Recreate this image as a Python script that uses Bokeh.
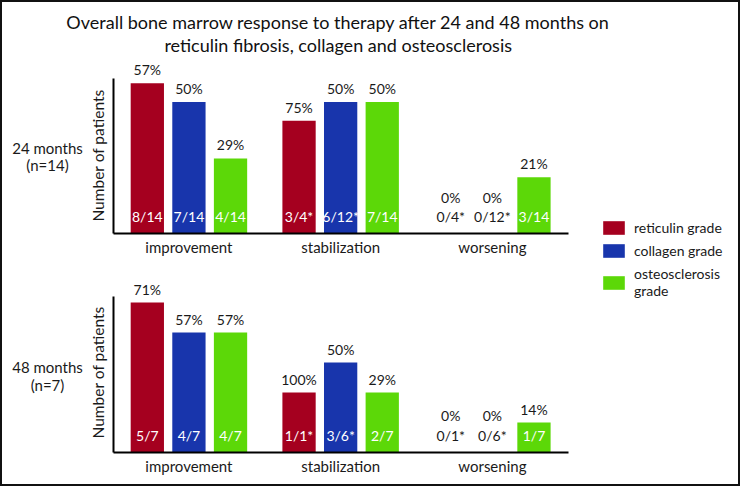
import numpy as np
from bokeh.plotting import figure
from bokeh.models import (Range1d, LinearAxis, FixedTicker, ColumnDataSource,
                          Label, Legend, LegendItem)
from bokeh.transform import dodge
from bokeh.embed import file_html
from bokeh.resources import INLINE

# ---------------- data ----------------
categories = ["improvement", "stabilization", "worsening"]
series_names = ["reticulin grade", "collagen grade", "osteosclerosis\ngrade"]
colors = ["#A5001F", "#1835AC", "#5CD808"]

title_lines = ["Overall bone marrow response to therapy after 24 and 48 months on",
               "reticulin fibrosis, collagen and osteosclerosis"]
panel_labels = [("24 months", "(n=14)"), ("48 months", "(n=7)")]
y_label = "Number of patients"

# number of patients per category (24 months, n=14)
reticulin_24 = [8, 6, 0]
collagen_24 = [7, 7, 0]
osteo_24 = [4, 7, 3]
reticulin_24_pct = ["57%", "75%", "0%"]
collagen_24_pct = ["50%", "50%", "0%"]
osteo_24_pct = ["29%", "50%", "21%"]
reticulin_24_frac = ["8/14", "3/4*", "0/4*"]
collagen_24_frac = ["7/14", "6/12*", "0/12*"]
osteo_24_frac = ["4/14", "7/14", "3/14"]

# number of patients per category (48 months, n=7)
reticulin_48 = [5, 2, 0]
collagen_48 = [4, 3, 0]
osteo_48 = [4, 2, 1]
reticulin_48_pct = ["71%", "100%", "0%"]
collagen_48_pct = ["57%", "50%", "0%"]
osteo_48_pct = ["57%", "29%", "14%"]
reticulin_48_frac = ["5/7", "1/1*", "0/1*"]
collagen_48_frac = ["4/7", "3/6*", "0/6*"]
osteo_48_frac = ["4/7", "2/7", "1/7"]

# ---------------- layout (pixels) ----------------
W, H = 740, 486
SX, SY = W / 756, H / 502          # reference layout scaled into the canvas


def X(v):
    return v * SX


def Y(v):
    return v * SY


AXIS_X = X(115)                    # px of the y axes
CAT_PX = X(155)                    # px per category
BASE1, SCALE1, TOP1 = Y(241), Y(19.45), Y(81)   # panel 1 baseline, px/patient, axis top
BASE2, SCALE2, TOP2 = Y(467), Y(31.0), Y(306)   # panel 2
BAR_W = 34 / 155
OFFS = [-42.5 / 155, 0.0, 42.5 / 155]
FONT = "Lato"
TXT = "#1a1a1a"

p = figure(width=W, height=H, output_backend="svg", toolbar_location=None,
           x_axis_type=None, y_axis_type=None, title=None,
           min_border=0, min_border_left=0, min_border_right=0,
           min_border_top=0, min_border_bottom=0)
p.x_range = Range1d(-AXIS_X / CAT_PX, (W - AXIS_X) / CAT_PX)
p.y_range = Range1d(-(H - BASE1) / SCALE1, BASE1 / SCALE1)
p.extra_y_ranges = {"p2": Range1d(-(H - BASE2) / SCALE2, BASE2 / SCALE2)}
p.outline_line_color = "#111111"
p.outline_line_width = 3
p.background_fill_color = "white"
p.border_fill_color = "white"

xc = np.arange(len(categories)) + 0.5

panels = [
    dict(rng="default", counts=[reticulin_24, collagen_24, osteo_24],
         pcts=[reticulin_24_pct, collagen_24_pct, osteo_24_pct],
         fracs=[reticulin_24_frac, collagen_24_frac, osteo_24_frac],
         top=(BASE1 - TOP1) / SCALE1),
    dict(rng="p2", counts=[reticulin_48, collagen_48, osteo_48],
         pcts=[reticulin_48_pct, collagen_48_pct, osteo_48_pct],
         fracs=[reticulin_48_frac, collagen_48_frac, osteo_48_frac],
         top=(BASE2 - TOP2) / SCALE2),
]

legend_renderers = []
for pi, pan in enumerate(panels):
    for si in range(3):
        cnt = pan["counts"][si]
        src = ColumnDataSource(dict(
            x=xc, count=cnt, zero=[0] * len(cnt),
            pct=pan["pcts"][si], frac=pan["fracs"][si],
            pct_off=[-Y(14) if c > 0 else -Y(38) for c in cnt],
            frac_col=["white" if c > 0 else TXT for c in cnt],
        ))
        xs = dodge("x", OFFS[si], range=p.x_range)
        r = p.vbar(x=xs, top="count", bottom=0, width=BAR_W, source=src,
                   fill_color=colors[si], line_color=None, y_range_name=pan["rng"])
        if pi == 0:
            legend_renderers.append(r)
        p.text(x=xs, y="count", text="pct", source=src, y_offset="pct_off",
               text_align="center", text_baseline="middle", text_font_size="14px",
               text_font={"value": FONT}, text_color=TXT, y_range_name=pan["rng"])
        p.text(x=xs, y="zero", text="frac", source=src, y_offset=-Y(18),
               text_align="center", text_baseline="middle", text_font_size="14px",
               text_font={"value": FONT}, text_color="frac_col", y_range_name=pan["rng"])

    # axes
    yax = LinearAxis(y_range_name=pan["rng"], fixed_location=0, bounds=(0, pan["top"]),
                     ticker=FixedTicker(ticks=[]), major_tick_line_color=None,
                     minor_tick_line_color=None, major_label_text_font_size="0px",
                     major_tick_out=0, major_tick_in=0,
                     axis_line_width=2, axis_line_color="black")
    p.add_layout(yax, "left")
    xax = LinearAxis(y_range_name=pan["rng"], fixed_location=0, bounds=(0, len(categories)),
                     ticker=FixedTicker(ticks=list(xc)),
                     major_label_overrides={float(v): c for v, c in zip(xc, categories)},
                     major_tick_line_color=None, minor_tick_line_color=None,
                     major_tick_out=0, major_tick_in=0,
                     major_label_standoff=4, major_label_text_font=FONT,
                     major_label_text_font_size="15px", major_label_text_color=TXT,
                     axis_line_width=2, axis_line_color="black")
    p.add_layout(xax, "below")

# texts
for line, yy in zip(title_lines, (22, 46)):
    p.add_layout(Label(x=X(345), y=H - Y(yy), x_units="screen", y_units="screen",
                       text=line, text_align="center", text_baseline="middle",
                       text_font=FONT, text_font_size="18px", text_color="#111111"))

panel_y = [(152, 170, 160), (379, 397, 384)]
for (l1, l2), (y1, y2, yl) in zip(panel_labels, panel_y):
    for t, yy in ((l1, y1), (l2, y2)):
        p.add_layout(Label(x=X(48), y=H - Y(yy), x_units="screen", y_units="screen", text=t,
                           text_align="center", text_baseline="middle",
                           text_font=FONT, text_font_size="15px", text_color=TXT))
    p.add_layout(Label(x=X(100), y=H - Y(yl), x_units="screen", y_units="screen", text=y_label,
                       angle=np.pi / 2, text_align="center", text_baseline="middle",
                       text_font=FONT, text_font_size="15.5px", text_color=TXT))

legend = Legend(items=[LegendItem(label=n, renderers=[r]) for n, r in zip(series_names, legend_renderers)],
                location=(X(613), 187), glyph_width=27, glyph_height=17, spacing=6,
                padding=0, margin=0, border_line_color=None, background_fill_alpha=0,
                label_text_font=FONT, label_text_font_size="14px", label_standoff=7,
                label_height=17, label_text_color=TXT)
p.add_layout(legend)

open("out.html", "w").write(file_html(p, INLINE))
